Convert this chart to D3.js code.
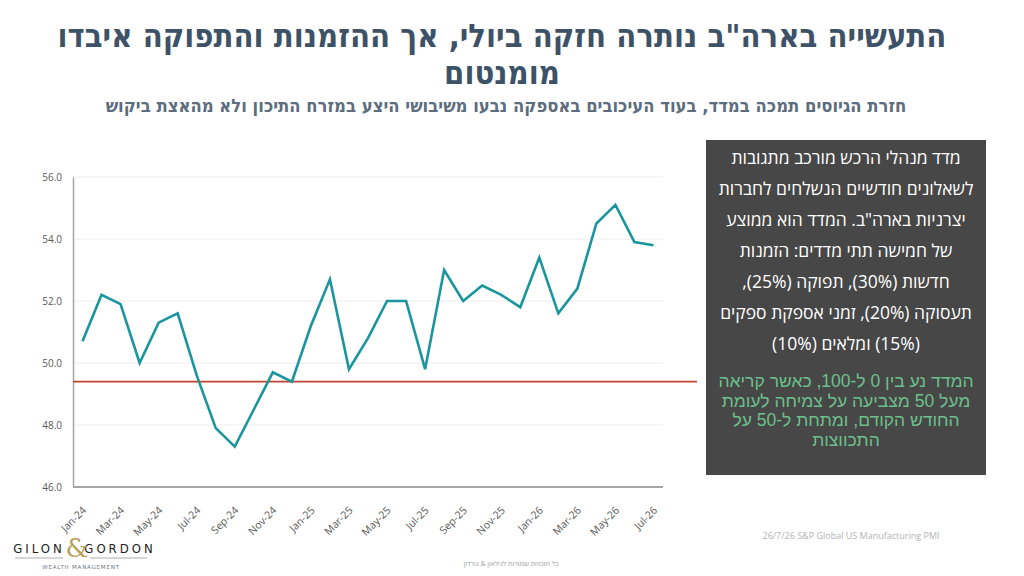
<!DOCTYPE html>
<html lang="he">
<head>
<meta charset="utf-8">
<script src="https://cdn.jsdelivr.net/npm/d3@7"></script>
<style>
  body { margin: 0; background: #fff; }
  svg { display: block; }
</style>
</head>
<body>
<svg id="chart" width="1024" height="576"></svg>
<script>
const months = [
  "Jan-24","Feb-24","Mar-24","Apr-24","May-24","Jun-24","Jul-24","Aug-24","Sep-24","Oct-24","Nov-24","Dec-24",
  "Jan-25","Feb-25","Mar-25","Apr-25","May-25","Jun-25","Jul-25","Aug-25","Sep-25","Oct-25","Nov-25","Dec-25",
  "Jan-26","Feb-26","Mar-26","Apr-26","May-26","Jun-26","Jul-26"
];
const pmi = [
  50.7, 52.2, 51.9, 50.0, 51.3, 51.6, 49.6, 47.9, 47.3, 48.5, 49.7, 49.4,
  51.2, 52.7, 49.8, 50.8, 52.0, 52.0, 49.8, 53.0, 52.0, 52.5, 52.2, 51.8,
  53.4, 51.6, 52.4, 54.5, 55.1, 53.9, 53.8
];
const threshold = 49.4;
const yTicks = [46, 48, 50, 52, 54, 56];

const titleLines = [
  "התעשייה בארה\"ב נותרה חזקה ביולי, אך ההזמנות והתפוקה איבדו",
  "מומנטום"
];
const subtitle = "חזרת הגיוסים תמכה במדד, בעוד העיכובים באספקה נבעו משיבושי היצע במזרח התיכון ולא מהאצת ביקוש";
const boxLines = [
  "מדד מנהלי הרכש מורכב  מתגובות",
  "לשאלונים חודשיים הנשלחים לחברות",
  "יצרניות בארה\"ב. המדד הוא ממוצע",
  "של חמישה תתי מדדים: הזמנות",
  "חדשות (30%), תפוקה (25%),",
  "תעסוקה (20%), זמני אספקת ספקים",
  "(15%) ומלאים (10%)"
];
const noteLines = [
  "המדד נע בין 0 ל-100, כאשר קריאה",
  "מעל 50 מצביעה על צמיחה לעומת",
  "החודש הקודם, ומתחת ל-50 על",
  "התכווצות"
];
const sourceText = "26/7/26 S&P Global US Manufacturing PMI";
const rightsText = "כל הזכויות שמורות לגילאון & גורדון";

const svg = d3.select("#chart");
const plot = {left: 73, right: 663, top: 177, bottom: 487};

const x = d3.scalePoint()
  .domain(months)
  .range([plot.left, plot.right])
  .padding(0.5);

const y = d3.scaleLinear()
  .domain([46, 56])
  .range([plot.bottom, plot.top]);

// titles
svg.append("g")
  .selectAll("text")
  .data(titleLines)
  .join("text")
  .attr("x", 502)
  .attr("y", (d, i) => 47 + i * 37)
  .attr("direction", "rtl")
  .attr("text-anchor", "middle")
  .attr("font-family", "DejaVu Sans Condensed, DejaVu Sans, sans-serif")
  .attr("font-weight", "bold")
  .attr("font-size", "32.5px")
  .attr("fill", "#3e5267")
  .text(d => d);

svg.append("text")
  .attr("x", 506)
  .attr("y", 112)
  .attr("direction", "rtl")
  .attr("text-anchor", "middle")
  .attr("font-family", "DejaVu Sans Condensed, DejaVu Sans, sans-serif")
  .attr("font-weight", "bold")
  .attr("font-size", "18.3px")
  .attr("fill", "#5d6d7e")
  .text(subtitle);

// grid
svg.append("g")
  .selectAll("line")
  .data(yTicks)
  .join("line")
  .attr("x1", plot.left)
  .attr("x2", plot.right)
  .attr("y1", d => y(d))
  .attr("y2", d => y(d))
  .attr("stroke", "#ececec")
  .attr("stroke-width", 1);

// y axis
const yAxis = svg.append("g")
  .attr("transform", `translate(${plot.left},0)`)
  .call(d3.axisLeft(y).tickValues(yTicks).tickSize(0).tickPadding(11).tickFormat(d3.format(".1f")));
yAxis.select(".domain").attr("stroke", "#a6a6a6").attr("stroke-width", 1.5);
yAxis.selectAll("text")
  .attr("font-family", "Open Sans, sans-serif")
  .attr("font-size", "10px")
  .attr("fill", "#595959");

// x axis
const xAxis = svg.append("g")
  .attr("transform", `translate(0,${plot.bottom})`)
  .call(d3.axisBottom(x)
    .tickValues(months.filter((d, i) => i % 2 === 0))
    .tickSize(0)
    .tickPadding(0));
xAxis.select(".domain")
  .attr("d", `M${plot.left},0H${plot.right}`)
  .attr("stroke", "#a6a6a6")
  .attr("stroke-width", 2);
xAxis.selectAll("text")
  .attr("font-family", "Open Sans, sans-serif")
  .attr("font-size", "10.5px")
  .attr("fill", "#595959")
  .attr("text-anchor", "end")
  .attr("dy", null)
  .attr("y", 0)
  .attr("transform", "translate(4,24) rotate(-45)");

// threshold line
svg.append("line")
  .attr("x1", plot.left)
  .attr("x2", 697)
  .attr("y1", y(threshold))
  .attr("y2", y(threshold))
  .attr("stroke", "#c0442c")
  .attr("stroke-width", 1.6);

// PMI line
svg.append("path")
  .datum(pmi)
  .attr("fill", "none")
  .attr("stroke", "#1b959d")
  .attr("stroke-width", 2.6)
  .attr("stroke-linejoin", "miter")
  .attr("d", d3.line()
    .x((d, i) => x(months[i]))
    .y(d => y(d)));

// explanation box
svg.append("rect")
  .attr("x", 706)
  .attr("y", 140)
  .attr("width", 280)
  .attr("height", 335)
  .attr("fill", "#474747");

svg.append("g")
  .selectAll("text")
  .data(boxLines)
  .join("text")
  .attr("x", 846)
  .attr("y", (d, i) => 164 + i * 31)
  .attr("direction", "rtl")
  .attr("text-anchor", "middle")
  .attr("font-family", "Open Sans, DejaVu Sans, sans-serif")
  .attr("font-size", "17.5px")
  .attr("fill", "#ffffff")
  .text(d => d);

svg.append("g")
  .selectAll("text")
  .data(noteLines)
  .join("text")
  .attr("x", 846)
  .attr("y", (d, i) => 387 + i * 19.5)
  .attr("direction", "rtl")
  .attr("text-anchor", "middle")
  .attr("font-family", "Liberation Sans, Open Sans, sans-serif")
  .attr("font-size", "17.5px")
  .attr("fill", "#6cc08c")
  .text(d => d);

// footer
svg.append("text")
  .attr("x", 851)
  .attr("y", 539)
  .attr("text-anchor", "middle")
  .attr("font-family", "Open Sans, sans-serif")
  .attr("font-size", "9px")
  .attr("fill", "#b3b3b3")
  .text(sourceText);

svg.append("text")
  .attr("x", 511)
  .attr("y", 566)
  .attr("direction", "rtl")
  .attr("text-anchor", "middle")
  .attr("font-family", "Open Sans, DejaVu Sans, sans-serif")
  .attr("font-size", "7px")
  .attr("fill", "#a0a0a0")
  .text(rightsText);

// logo
const logo = svg.append("g");
logo.append("text")
  .attr("x", 39).attr("y", 553)
  .attr("text-anchor", "middle")
  .attr("font-family", "DejaVu Sans Condensed, sans-serif")
  .attr("font-size", "13px")
  .attr("letter-spacing", "3px")
  .attr("fill", "#222")
  .text("GILON");
logo.append("text")
  .attr("x", 120).attr("y", 553)
  .attr("text-anchor", "middle")
  .attr("font-family", "DejaVu Sans Condensed, sans-serif")
  .attr("font-size", "13px")
  .attr("letter-spacing", "3px")
  .attr("fill", "#222")
  .text("GORDON");
logo.append("text")
  .attr("x", 77).attr("y", 557)
  .attr("text-anchor", "middle")
  .attr("font-family", "DejaVu Serif, serif")
  .attr("font-size", "26px")
  .attr("fill", "#b8a15a")
  .text("&");
logo.append("line")
  .attr("x1", 15).attr("x2", 63).attr("y1", 558).attr("y2", 558)
  .attr("stroke", "#888").attr("stroke-width", 0.7);
logo.append("line")
  .attr("x1", 90).attr("x2", 147).attr("y1", 558).attr("y2", 558)
  .attr("stroke", "#888").attr("stroke-width", 0.7);
logo.append("text")
  .attr("x", 81).attr("y", 569)
  .attr("text-anchor", "middle")
  .attr("font-family", "DejaVu Sans, sans-serif")
  .attr("font-size", "5.5px")
  .attr("letter-spacing", "0.8px")
  .attr("fill", "#6a7685")
  .text("WEALTH MANAGEMENT");
</script>
</body>
</html>
